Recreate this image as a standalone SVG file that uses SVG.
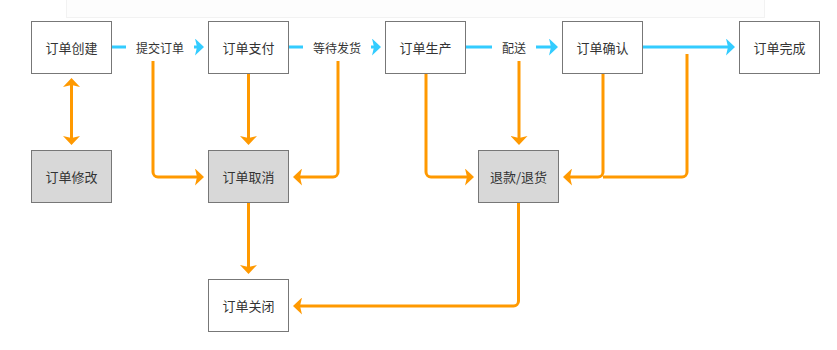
<svg xmlns="http://www.w3.org/2000/svg" width="837" height="350" viewBox="0 0 837 350">
<style>
.node rect{stroke:#777777;stroke-width:1;}
.w{fill:#ffffff;}
.g{fill:#d8d8d8;}
text{font-family:"Noto Sans CJK SC","Microsoft YaHei",sans-serif;font-size:12px;fill:#333333;text-anchor:middle;dominant-baseline:central;}
.node text{font-size:13px;}
.blue{fill:none;stroke:#33ccff;stroke-width:3;}
.orange{fill:none;stroke:#ff9900;stroke-width:3;}
.lbl{fill:#ffffff;}
</style>
<defs>
<marker id="ab" viewBox="0 0 9 17" markerWidth="9" markerHeight="17" refX="2" refY="8.5" markerUnits="userSpaceOnUse" orient="auto-start-reverse">
<path d="M0,0 L9,8.5 L0,17 L2,8.5 Z" fill="#33ccff"/>
</marker>
<marker id="ao" viewBox="0 0 9 17" markerWidth="9" markerHeight="17" refX="2" refY="8.5" markerUnits="userSpaceOnUse" orient="auto-start-reverse">
<path d="M0,0 L9,8.5 L0,17 L2,8.5 Z" fill="#ff9900"/>
</marker>
</defs>
<rect x="66.5" y="-1" width="698" height="18.5" fill="#fdfdfd" stroke="#f2f2f2" stroke-width="1"/>
<g id="connectors">
<path class="blue" d="M111.5,47 H197" marker-end="url(#ab)"/>
<path class="blue" d="M288.5,47 H374" marker-end="url(#ab)"/>
<path class="blue" d="M465.5,47 H551" marker-end="url(#ab)"/>
<path class="blue" d="M642.5,47 H728" marker-end="url(#ab)"/>
<path class="orange" d="M71.5,85 V138" marker-start="url(#ao)" marker-end="url(#ao)"/>
<path class="orange" d="M153,61 V172 A5,5 0 0 0 158,177 H197" marker-end="url(#ao)"/>
<path class="orange" d="M248.5,73.5 V138" marker-end="url(#ao)"/>
<path class="orange" d="M338,61 V172 A5,5 0 0 1 333,177 H300" marker-end="url(#ao)"/>
<path class="orange" d="M248.5,202.5 V267" marker-end="url(#ao)"/>
<path class="orange" d="M426,73.5 V172 A5,5 0 0 0 431,177 H467" marker-end="url(#ao)"/>
<path class="orange" d="M519,61 V138" marker-end="url(#ao)"/>
<path class="orange" d="M603,73.5 V172 A5,5 0 0 1 598,177 H570" marker-end="url(#ao)"/>
<path class="orange" d="M687,54 V172 A5,5 0 0 1 682,177 H603"/>
<path class="orange" d="M518.5,202.5 V301 A5,5 0 0 1 513.5,306 H300" marker-end="url(#ao)"/>
<rect class="lbl" x="126" y="37" width="68" height="20"/>
<text x="160" y="47">提交订单</text>
<rect class="lbl" x="303" y="37" width="68" height="20"/>
<text x="337" y="47">等待发货</text>
<rect class="lbl" x="492" y="37" width="44" height="20"/>
<text x="514" y="47">配送</text>
</g>
<g id="n1" class="node"><rect class="w" x="31.5" y="21.5" width="80" height="52"/><text x="71.5" y="47.5">订单创建</text></g>
<g id="n2" class="node"><rect class="w" x="208.5" y="21.5" width="80" height="52"/><text x="248.5" y="47.5">订单支付</text></g>
<g id="n3" class="node"><rect class="w" x="385.5" y="21.5" width="80" height="52"/><text x="425.5" y="47.5">订单生产</text></g>
<g id="n4" class="node"><rect class="w" x="562.5" y="21.5" width="80" height="52"/><text x="602.5" y="47.5">订单确认</text></g>
<g id="n5" class="node"><rect class="w" x="739.5" y="21.5" width="80" height="52"/><text x="779.5" y="47.5">订单完成</text></g>
<g id="n6" class="node"><rect class="g" x="31.5" y="150.5" width="80" height="52"/><text x="71.5" y="176.5">订单修改</text></g>
<g id="n7" class="node"><rect class="g" x="208.5" y="150.5" width="80" height="52"/><text x="248.5" y="176.5">订单取消</text></g>
<g id="n8" class="node"><rect class="g" x="478.5" y="150.5" width="80" height="52"/><text x="518.5" y="176.5">退款/退货</text></g>
<g id="n9" class="node"><rect class="w" x="208.5" y="279.5" width="80" height="52"/><text x="248.5" y="305.5">订单关闭</text></g>
</svg>
